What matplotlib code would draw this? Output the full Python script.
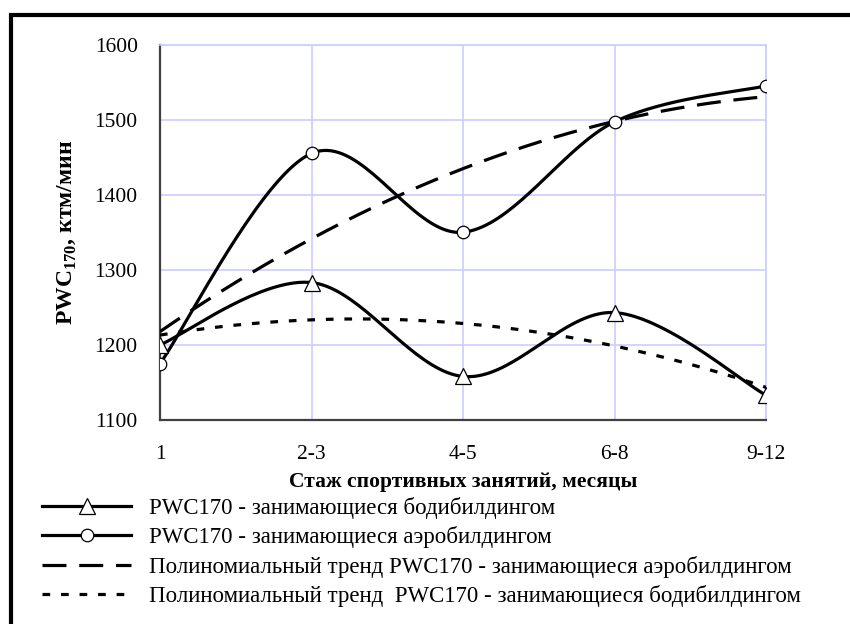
import numpy as np
import matplotlib
matplotlib.use("Agg")
import matplotlib.pyplot as plt
from matplotlib.lines import Line2D

plt.rcParams['font.family'] = ['Liberation Serif', 'DejaVu Serif']
plt.rcParams['mathtext.fontset'] = 'custom'
plt.rcParams['mathtext.rm'] = 'Liberation Serif'
plt.rcParams['mathtext.bf'] = 'Liberation Serif:bold'

# Training experience groups (months) and PWC170 values
categories = ['1', '2-3', '4-5', '6-8', '9-12']
bodybuilding = [1200, 1283, 1158, 1243, 1133]
aerobuilding = [1175, 1455, 1350, 1497, 1545]
y_ticks = [1100, 1200, 1300, 1400, 1500, 1600]

labels = [
    'PWC170 - занимающиеся бодибилдингом',
    'PWC170 - занимающиеся аэробилдингом',
    'Полиномиальный тренд PWC170 - занимающиеся аэробилдингом',
    'Полиномиальный тренд  PWC170 - занимающиеся бодибилдингом',
]


def smooth_curve(xs, ys, n=40):
    """Catmull-Rom smoothing through the points (spreadsheet-style smoothed line)."""
    pts = np.column_stack([xs, ys]).astype(float)
    P = np.vstack([pts[0], pts, pts[-1]])
    out = []
    for i in range(1, len(P) - 2):
        p0, p1, p2, p3 = P[i - 1], P[i], P[i + 1], P[i + 2]
        c1 = p1 + (p2 - p0) / 6.0
        c2 = p2 - (p3 - p1) / 6.0
        t = np.linspace(0, 1, n)[:, None]
        seg = ((1 - t) ** 3) * p1 + 3 * ((1 - t) ** 2) * t * c1 \
            + 3 * (1 - t) * t ** 2 * c2 + t ** 3 * p2
        out.append(seg if i == 1 else seg[1:])
    c = np.vstack(out)
    return c[:, 0], c[:, 1]


def poly_trend(xs, ys, deg=2, n=200):
    coef = np.polyfit(xs, ys, deg)
    xx = np.linspace(xs[0], xs[-1], n)
    return xx, np.polyval(coef, xx)


W, H = 850, 624
fig = plt.figure(figsize=(W / 100, H / 100), dpi=100)
fig.patch.set_facecolor('white')

ax = fig.add_axes([160 / W, 1 - 420 / H, (766 - 160) / W, (420 - 44.5) / H])

x = np.arange(len(categories))
grid_c = '#ccccff'
lw = 2.3
dash_style = (0, (7.5, 4.0))
dot_style = (0, (2.4, 3.4))

# Data lines (smoothed) with markers
bx, by = smooth_curve(x, bodybuilding)
ax.plot(bx, by, color='black', lw=lw, zorder=4)
ax.plot(x, bodybuilding, ls='none', marker='^', ms=11, mfc='white',
        mec='black', mew=0.9, zorder=6)

axx, axy = smooth_curve(x, aerobuilding)
ax.plot(axx, axy, color='black', lw=lw, zorder=4)
ax.plot(x, aerobuilding, ls='none', marker='o', ms=9, mfc='white',
        mec='black', mew=0.9, zorder=6)

# Second-order polynomial trends
tx, ty = poly_trend(x, aerobuilding)
ax.plot(tx, ty, color='black', lw=lw, ls=dash_style, zorder=3)
tx2, ty2 = poly_trend(x, bodybuilding)
ax.plot(tx2, ty2, color='black', lw=lw, ls=dot_style, zorder=3)

ax.set_xlim(0, len(categories) - 1)
ax.set_ylim(1100, 1600)
ax.set_xticks(x)
ax.set_xticklabels(categories)
ax.set_yticks(y_ticks)
ax.set_yticklabels([str(v) for v in y_ticks])
ax.tick_params(axis='both', length=0, labelsize=15.5, colors='black')
ax.tick_params(axis='y', pad=16)
ax.tick_params(axis='x', pad=18)

ax.grid(True, color=grid_c, lw=1.2, zorder=0)
ax.set_axisbelow(True)
for s in ['top', 'right']:
    ax.spines[s].set_color(grid_c)
    ax.spines[s].set_linewidth(1.2)
for s in ['left', 'bottom']:
    ax.spines[s].set_color('#404040')
    ax.spines[s].set_linewidth(1.6)

ax.set_xlabel('Стаж спортивных занятий, месяцы', fontsize=15.5,
              fontweight='bold', labelpad=6)
ax.set_ylabel(r'PWC$_{\mathbf{170}}$, ктм/мин', fontsize=17,
              fontweight='bold', labelpad=12)

# Legend
handles = [
    Line2D([], [], color='black', lw=lw, marker='^', ms=11, mfc='white',
           mec='black', mew=0.9),
    Line2D([], [], color='black', lw=lw, marker='o', ms=9, mfc='white',
           mec='black', mew=0.9),
    Line2D([], [], color='black', lw=lw, ls=dash_style),
    Line2D([], [], color='black', lw=lw, ls=dot_style),
]
fig.legend(handles, labels, loc='upper left',
           bbox_to_anchor=(42 / W, 1 - 497 / H), frameon=False,
           fontsize=16.5, handlelength=3.9, handletextpad=0.75,
           labelspacing=0.32, numpoints=1, borderaxespad=0, borderpad=0)

# Outer chart frame (top and left edges)
fig.add_artist(Line2D([11 / W, 11 / W, 1.05], [-0.05, 1 - 15 / H, 1 - 15 / H],
                      transform=fig.transFigure, color='black', lw=3,
                      solid_joinstyle='miter'))

fig.savefig('out.png', dpi=100, facecolor='white')
